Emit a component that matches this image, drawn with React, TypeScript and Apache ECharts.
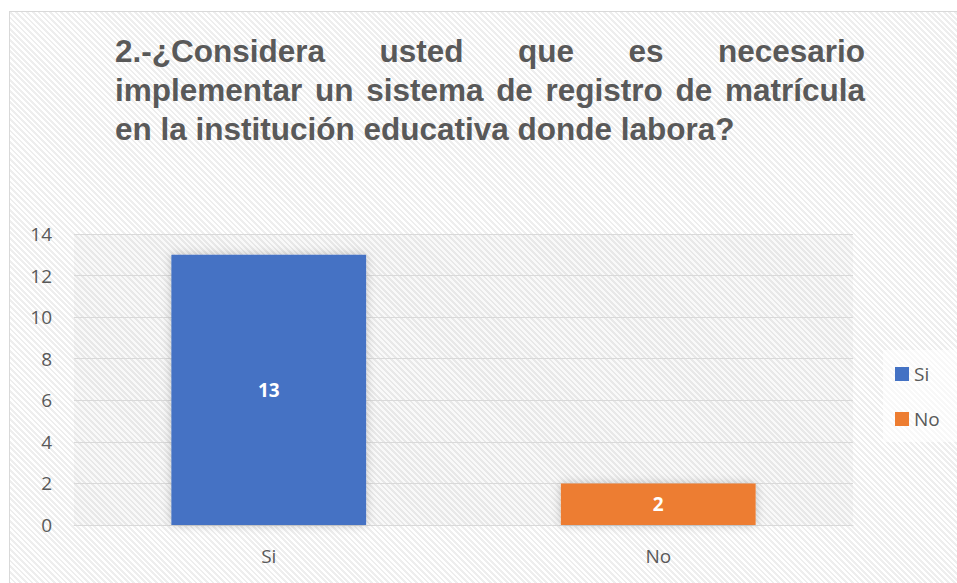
import React, { useEffect, useRef } from "react";
import * as echarts from "echarts";

const titleLines = [
  "2.-¿Considera usted que es necesario",
  "implementar un sistema de registro de matrícula",
  "en la institución educativa donde labora?",
];
const justifyLine = [true, true, false];
const categories = ["Si", "No"];
const counts = [13, 2];
const yTicks = { min: 0, max: 14, interval: 2 };

const seriesColors = ["#4472C4", "#ED7D31"];
const TITLE_FONT_SIZE = 31.5;
const TITLE_FONT = `bold ${TITLE_FONT_SIZE}px "Liberation Sans", Arial, sans-serif`;
const TITLE_LEFT = 115;
const TITLE_RIGHT = 865;
const TITLE_MID_Y = [51, 90, 129];
const LABEL_FONT = '"Open Sans", "Noto Sans", sans-serif';

function buildTitle() {
  const canvas = document.createElement("canvas");
  const ctx = canvas.getContext("2d") as CanvasRenderingContext2D;
  ctx.font = TITLE_FONT;
  const els: any[] = [];
  titleLines.forEach((line, li) => {
    const y = TITLE_MID_Y[li];
    if (justifyLine[li]) {
      const words = line.split(" ");
      const widths = words.map((w) => ctx.measureText(w).width);
      const total = widths.reduce((a, b) => a + b, 0);
      const gap = (TITLE_RIGHT - TITLE_LEFT - total) / (words.length - 1);
      let x = TITLE_LEFT;
      words.forEach((w, i) => {
        els.push({
          type: "text",
          silent: true,
          style: {
            text: w,
            x,
            y,
            font: TITLE_FONT,
            fill: "#595959",
            textAlign: "left",
            textVerticalAlign: "middle",
          },
        });
        x += widths[i] + gap;
      });
    } else {
      els.push({
        type: "text",
        silent: true,
        style: {
          text: line,
          x: TITLE_LEFT,
          y,
          font: TITLE_FONT,
          fill: "#595959",
          textAlign: "left",
          textVerticalAlign: "middle",
        },
      });
    }
  });
  return els;
}

export default function App() {
  const ref = useRef<HTMLDivElement>(null);
  useEffect(() => {
    if (!ref.current) return;
    const chart = echarts.init(ref.current, null, { renderer: "svg" });
    const series = categories.map((name, i) => ({
      name,
      type: "bar",
      data: categories.map((_, j) => (j === i ? counts[i] : "-")),
      barWidth: "50%",
      barGap: "-100%",
      itemStyle: {
        color: seriesColors[i],
        shadowBlur: 10,
        shadowColor: "rgba(0,0,0,0.22)",
      },
      label: {
        show: true,
        position: "inside",
        color: "#ffffff",
        fontWeight: "bold",
        fontSize: 19,
        fontFamily: LABEL_FONT,
      },
    }));
    chart.setOption({
      animation: false,
      graphic: buildTitle(),
      grid: {
        left: 74,
        right: 104,
        top: 234,
        bottom: 58,
        show: true,
        backgroundColor: "rgba(0,0,0,0.025)",
        borderWidth: 0,
      },
      legend: {
        data: categories,
        orient: "vertical",
        left: 883,
        top: 350,
        padding: [14, 40, 13, 12],
        backgroundColor: "rgba(255,255,255,0.6)",
        icon: "rect",
        itemWidth: 14,
        itemHeight: 14,
        itemGap: 25,
        itemStyle: { shadowBlur: 0, shadowColor: "transparent" },
        textStyle: {
          fontSize: 19,
          lineHeight: 20,
          color: "#595959",
          fontFamily: LABEL_FONT,
        },
      },
      xAxis: {
        type: "category",
        data: categories,
        axisLine: { lineStyle: { color: "#d9d9d9", width: 1 } },
        axisTick: { show: false },
        axisLabel: {
          margin: 21,
          fontSize: 19,
          color: "#595959",
          fontFamily: LABEL_FONT,
        },
      },
      yAxis: {
        type: "value",
        min: yTicks.min,
        max: yTicks.max,
        interval: yTicks.interval,
        axisLine: { show: false },
        axisTick: { show: false },
        splitLine: { lineStyle: { color: "#d9d9d9", width: 1 } },
        axisLabel: {
          margin: 22,
          fontSize: 19,
          color: "#595959",
          fontFamily: LABEL_FONT,
        },
      },
      series,
    });
    return () => chart.dispose();
  }, []);

  return (
    <div
      style={{
        position: "fixed",
        left: 0,
        top: 0,
        width: 957,
        height: 583,
        overflow: "hidden",
        background: "#ffffff",
      }}
    >
      <div
        style={{
          position: "absolute",
          left: 9,
          top: 11,
          right: -10,
          bottom: -10,
          borderTop: "1px solid #d9d9d9",
          borderLeft: "1px solid #d9d9d9",
          background:
            "repeating-linear-gradient(45deg, #ffffff 0px, #ffffff 2px, #eeeeee 2px, #eeeeee 4px)",
        }}
      />
      <div
        ref={ref}
        style={{ position: "absolute", left: 0, top: 0, width: 957, height: 583 }}
      />
    </div>
  );
}
